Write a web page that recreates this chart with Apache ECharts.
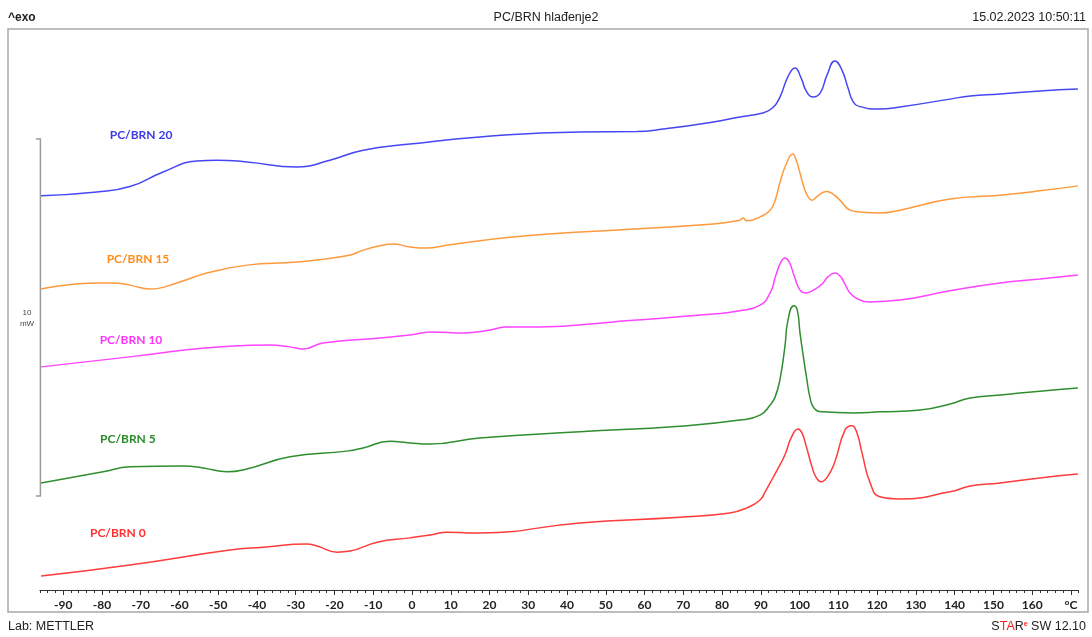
<!DOCTYPE html>
<html>
<head>
<meta charset="utf-8">
<script src="https://cdn.jsdelivr.net/npm/echarts@6/dist/echarts.min.js"></script>
<style>
html,body{margin:0;padding:0;background:#fff;}
#chart{width:1092px;height:637px;}
</style>
</head>
<body>
<div id="chart"></div>
<script>
// Temperature (°C), heat flow (mW, arbitrary offset) pairs
const pcbrn20 = [[-95.7,11.04],[-81.3,11.15],[-72.8,11.30],[-64.2,11.71],[-55.5,12.02],[-50.3,12.04],[-42.6,11.99],[-29.7,11.85],[-21.2,12.04],[-12.6,12.32],[-0.5,12.49],[17.5,12.69],[43.3,12.83],[58.0,12.84],[64.8,12.91],[77.7,13.11],[84.6,13.25],[90.5,13.36],[93.0,13.50],[94.9,13.80],[97.0,14.38],[98.8,14.62],[100.4,14.34],[101.7,13.98],[103.4,13.81],[105.3,13.92],[107.1,14.43],[109.1,14.82],[110.9,14.57],[112.5,14.06],[113.8,13.68],[115.6,13.54],[120.7,13.47],[125.9,13.53],[138.8,13.75],[144.0,13.84],[151.7,13.89],[162.0,13.98],[171.8,14.03]];
const pcbrn15 = [[-95.7,8.43],[-81.3,8.60],[-77.1,8.60],[-72.8,8.54],[-67.6,8.43],[-59.9,8.63],[-52.9,8.88],[-42.6,9.10],[-29.7,9.19],[-16.8,9.36],[-12.6,9.52],[-8.3,9.64],[-4.9,9.69],[-0.5,9.61],[3.9,9.58],[9.0,9.66],[26.1,9.89],[51.9,10.08],[77.7,10.25],[84.6,10.36],[85.4,10.42],[86.4,10.34],[89.8,10.45],[92.4,10.64],[93.7,10.92],[94.9,11.40],[96.5,11.92],[98.2,12.21],[99.3,11.98],[100.1,11.68],[101.1,11.29],[102.2,11.01],[103.2,10.92],[104.7,11.04],[107.0,11.16],[108.6,11.09],[110.4,10.92],[113.0,10.64],[115.6,10.59],[120.7,10.56],[125.9,10.64],[138.8,10.95],[151.7,11.06],[162.0,11.18],[171.8,11.32]];
const pcbrn10 = [[-95.7,6.25],[-72.8,6.53],[-47.0,6.83],[-36.6,6.86],[-31.5,6.81],[-28.1,6.75],[-23.0,6.92],[-8.3,7.06],[-0.5,7.14],[5.4,7.23],[13.2,7.20],[20.1,7.28],[24.5,7.37],[33.0,7.37],[51.9,7.51],[77.7,7.73],[84.6,7.82],[89.8,7.98],[92.4,8.32],[93.9,8.82],[95.2,9.19],[96.2,9.30],[97.3,9.19],[98.6,8.80],[100.1,8.40],[101.7,8.32],[104.0,8.43],[105.8,8.57],[107.3,8.77],[109.1,8.88],[110.4,8.80],[111.7,8.57],[113.0,8.32],[115.0,8.15],[118.2,8.07],[125.9,8.12],[138.8,8.38],[151.7,8.60],[162.0,8.71],[171.8,8.82]];
const pcbrn5 = [[-95.7,3.00],[-79.7,3.31],[-72.8,3.45],[-59.1,3.47],[-53.9,3.42],[-47.7,3.31],[-42.6,3.39],[-31.5,3.73],[-16.8,3.89],[-12.6,3.98],[-5.7,4.17],[-0.5,4.12],[4.6,4.09],[17.5,4.26],[43.3,4.43],[69.1,4.59],[84.6,4.76],[89.8,4.90],[92.4,5.18],[93.7,5.41],[94.9,5.88],[96.2,6.81],[97.0,7.56],[98.5,7.96],[99.4,7.84],[100.1,7.20],[101.1,6.44],[101.9,5.88],[102.7,5.38],[103.7,5.10],[105.8,4.99],[113.8,4.96],[120.7,4.99],[131.1,5.04],[138.8,5.21],[144.0,5.38],[151.7,5.46],[162.0,5.57],[171.8,5.66]];
const pcbrn0 = [[-95.7,0.39],[-72.8,0.70],[-47.0,1.12],[-38.4,1.20],[-27.1,1.29],[-24.5,1.23],[-19.3,1.06],[-16.0,1.09],[-9.0,1.34],[-0.5,1.46],[4.6,1.54],[9.0,1.62],[15.0,1.60],[17.5,1.60],[43.3,1.88],[69.1,2.04],[82.0,2.16],[86.4,2.30],[89.8,2.52],[91.1,2.75],[92.6,3.04],[94.2,3.36],[96.2,3.78],[97.9,4.28],[99.6,4.51],[100.6,4.40],[101.7,4.03],[103.2,3.45],[104.2,3.17],[105.5,3.03],[107.3,3.19],[109.1,3.59],[111.7,4.48],[113.5,4.60],[114.8,4.40],[116.1,3.84],[118.2,3.00],[120.7,2.61],[125.9,2.55],[138.8,2.75],[144.0,2.91],[151.7,3.00],[162.0,3.14],[171.8,3.25]];

const seriesNames = ['PC/BRN 20','PC/BRN 15','PC/BRN 10','PC/BRN 5','PC/BRN 0'];
const seriesData = [pcbrn20, pcbrn15, pcbrn10, pcbrn5, pcbrn0];
const lineColors = ['#4646f5','#ff9a3c','#ff44ff','#2f8f2f','#ff3b3b'];
const labelColors = ['#3a3ae8','#ff8c1a','#ff33ff','#2a8a2a','#ff3030'];
// label anchor (°C, mW)
const labelPos = [[-69.9,12.75],[-70.7,9.27],[-72.5,7.0],[-73.3,4.23],[-75.9,1.60]];

const xMin = -96, xMax = 172, majorMin = -90, majorMax = 170;
const yMin = 0, yMax = 15.686;
const scaleBar = [2.63, 12.63]; // 10 mW

const chart = echarts.init(document.getElementById('chart'));
const axisPx = (t) => 412 + 3.876 * t;

const option = {
  animation: false,
  grid: [
    {left: axisPx(xMin), right: 1092 - axisPx(xMax), top: 30, bottom: 47},
    {left: axisPx(majorMin), right: 1092 - axisPx(majorMax), top: 30, bottom: 47}
  ],
  xAxis: [
    {
      gridIndex: 0, type: 'value', min: xMin, max: xMax, interval: 2,
      axisLine: {show: true, lineStyle: {color: '#333', width: 1}},
      axisTick: {show: true, length: 3, lineStyle: {color: '#333'}},
      splitLine: {show: false},
      axisLabel: {
        margin: 9, color: '#222', fontFamily: 'Lato', fontWeight: 'bold', fontSize: 12,
        formatter: (v) => (v === 170 ? '°C' : (v % 10 === 0 ? String(v) : ''))
      }
    },
    {
      gridIndex: 1, type: 'value', min: majorMin, max: majorMax, interval: 10,
      axisLine: {show: false},
      axisTick: {show: true, length: 5, lineStyle: {color: '#333'}},
      axisLabel: {show: false}, splitLine: {show: false}
    }
  ],
  yAxis: [
    {gridIndex: 0, type: 'value', min: yMin, max: yMax, show: false},
    {gridIndex: 1, type: 'value', min: yMin, max: yMax, show: false}
  ],
  series: seriesData.map((d, i) => ({
    name: seriesNames[i], type: 'line', data: d, xAxisIndex: 0, yAxisIndex: 0,
    showSymbol: false, smooth: 0.5,
    lineStyle: {color: lineColors[i], width: 1.5}
  }))
};
chart.setOption(option);

const g = [];
// outer frame
g.push({type: 'rect', shape: {x: 8, y: 29, width: 1080, height: 583}, style: {fill: 'none', stroke: '#a8a8a8', lineWidth: 1.5}, z: 0});
// header / footer
g.push({type: 'text', x: 8, y: 18, style: {text: '^exo', font: 'bold 12px "Liberation Sans"', fill: '#222', textAlign: 'left', textVerticalAlign: 'middle'}});
g.push({type: 'text', x: 546, y: 18, style: {text: 'PC/BRN hlađenje2', font: '12.5px "Liberation Sans"', fill: '#222', textAlign: 'center', textVerticalAlign: 'middle'}});
g.push({type: 'text', x: 1086, y: 18, style: {text: '15.02.2023 10:50:11', font: '12.5px "Liberation Sans"', fill: '#222', textAlign: 'right', textVerticalAlign: 'middle'}});
g.push({type: 'text', x: 8, y: 627, style: {text: 'Lab: METTLER', font: '12.5px "Liberation Sans"', fill: '#222', textAlign: 'left', textVerticalAlign: 'middle'}});
g.push({type: 'text', x: 1086, y: 627, style: {
  text: '{k|S}{r|TA}{k|R}{s|e}{k| SW 12.10}', textAlign: 'right', textVerticalAlign: 'middle',
  rich: {
    k: {font: '12.5px "Liberation Sans"', fill: '#222'},
    r: {font: '12.5px "Liberation Sans"', fill: '#ff2020'},
    s: {font: 'bold 7px "Liberation Sans"', fill: '#ff2020', verticalAlign: 'top', padding: [0,0,6,0]}
  }
}});
// scale bar
const pTop = chart.convertToPixel({gridIndex: 0}, [xMin, scaleBar[1]]);
const pBot = chart.convertToPixel({gridIndex: 0}, [xMin, scaleBar[0]]);
const bx = pTop[0] + 0.5;
g.push({type: 'polyline', shape: {points: [[bx - 4.5, pTop[1]], [bx, pTop[1]], [bx, pBot[1]], [bx - 4.5, pBot[1]]]}, style: {stroke: '#9a9a9a', lineWidth: 1.5, fill: 'none'}});
const midY = (pTop[1] + pBot[1]) / 2;
g.push({type: 'text', x: 27, y: midY - 5, style: {text: '10', font: '8px "Liberation Sans"', fill: '#444', textAlign: 'center', textVerticalAlign: 'middle'}});
g.push({type: 'text', x: 27, y: midY + 6, style: {text: 'mW', font: '8px "Liberation Sans"', fill: '#444', textAlign: 'center', textVerticalAlign: 'middle'}});
// series labels
labelPos.forEach((p, i) => {
  const px = chart.convertToPixel({gridIndex: 0}, p);
  g.push({type: 'text', x: px[0], y: px[1], style: {text: seriesNames[i], font: 'bold 12px Lato', fill: labelColors[i], textAlign: 'center', textVerticalAlign: 'middle'}});
});
chart.setOption({graphic: g});
</script>
</body>
</html>
